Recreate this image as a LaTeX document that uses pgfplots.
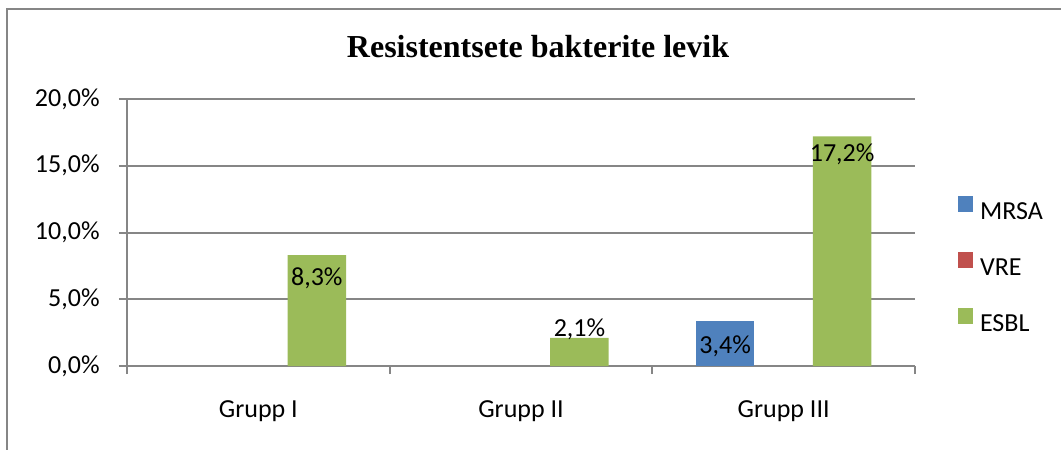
\documentclass[border=0pt]{standalone}
\usepackage{fontspec}
\setmainfont{Carlito}
\newfontfamily\titlefont{Liberation Serif}
\usepackage{pgfplots}
\usepackage{pgfplotstable}
\pgfplotsset{compat=1.18}
\definecolor{mrsa}{HTML}{4F81BD}
\definecolor{vre}{HTML}{C0504D}
\definecolor{esbl}{HTML}{9BBB59}
\definecolor{axgray}{HTML}{868686}

\pgfplotstableread{
x y dy lab
2 3.4 -7.2 {3,4\%}
}\mrsatab
\pgfplotstableread{
x y dy lab
0 8.3 -5.9 {8,3\%}
1 2.1 10.0 {2,1\%}
2 17.2 -3.3 {17,2\%}
}\esbltab

\begin{document}
\begin{tikzpicture}
\useasboundingbox (0,0) rectangle (530.5pt,-225pt);
\draw[axgray, line width=1pt] (3.5pt,-225pt) -- (3.5pt,-4.25pt) -- (530.5pt,-4.25pt);
\node[anchor=base, inner sep=0pt] at (269pt,-28.5pt) {\titlefont\fontsize{16}{19}\selectfont\bfseries Resistentsete bakterite levik};
\begin{axis}[
  at={(63.5pt,-49.5pt)}, anchor=north west,
  scale only axis, width=394pt, height=133.5pt,
  xmin=-0.5, xmax=2.5, ymin=0, ymax=20,
  ybar, bar width=0.2227,
  axis x line*=bottom, axis y line*=left,
  axis line style={axgray, line width=1pt},
  xtick={0,1,2}, xticklabels={Grupp I, Grupp II, Grupp III},
  minor xtick={-0.5,0.5,1.5,2.5},
  major x tick style={draw=none},
  minor x tick style={axgray, line width=1pt},
  ytick={0,5,10,15,20},
  ytick style={axgray, line width=1pt},
  tick align=outside, major tick length=4pt, minor tick length=4pt,
  ymajorgrids, major grid style={axgray, line width=1pt},
  /pgf/number format/assume math mode=true,
  yticklabel={\pgfmathprintnumber[fixed, fixed zerofill, precision=1, use comma]{\tick}\%},
  ticklabel style={font=\fontsize{13}{15}\selectfont, inner sep=0pt},
  yticklabel style={anchor=east, xshift=-9.5pt},
  xticklabel style={anchor=north, yshift=-13pt},
  legend image code/.code={\fill[#1] (0pt,0pt) rectangle (7.3pt,7.8pt);},
  legend style={at={(1.0546,0.382)}, anchor=west, draw=none, fill=none,
    inner sep=0pt, row sep=16.25pt, column sep=3.5pt,
    font=\fontsize{13}{15}\selectfont,
    nodes={inner sep=0pt, text height=8pt, text depth=0pt}},
  legend cell align=left,
  nodes near coords,
  point meta=explicit symbolic,
  visualization depends on={\thisrow{dy} \as \dy},
  nodes near coords style={anchor=north, inner sep=0pt, yshift=\dy pt, font=\fontsize{13}{15}\selectfont, text=black},
]
\addplot[fill=mrsa, draw=none, bar shift=-0.2227] table[x=x, y=y, meta=lab] {\mrsatab};
\addlegendentry{MRSA}
\addlegendimage{fill=vre, draw=none}
\addlegendentry{VRE}
\addplot[fill=esbl, draw=none, bar shift=0.2227] table[x=x, y=y, meta=lab] {\esbltab};
\addlegendentry{ESBL}
\end{axis}
\end{tikzpicture}
\end{document}
